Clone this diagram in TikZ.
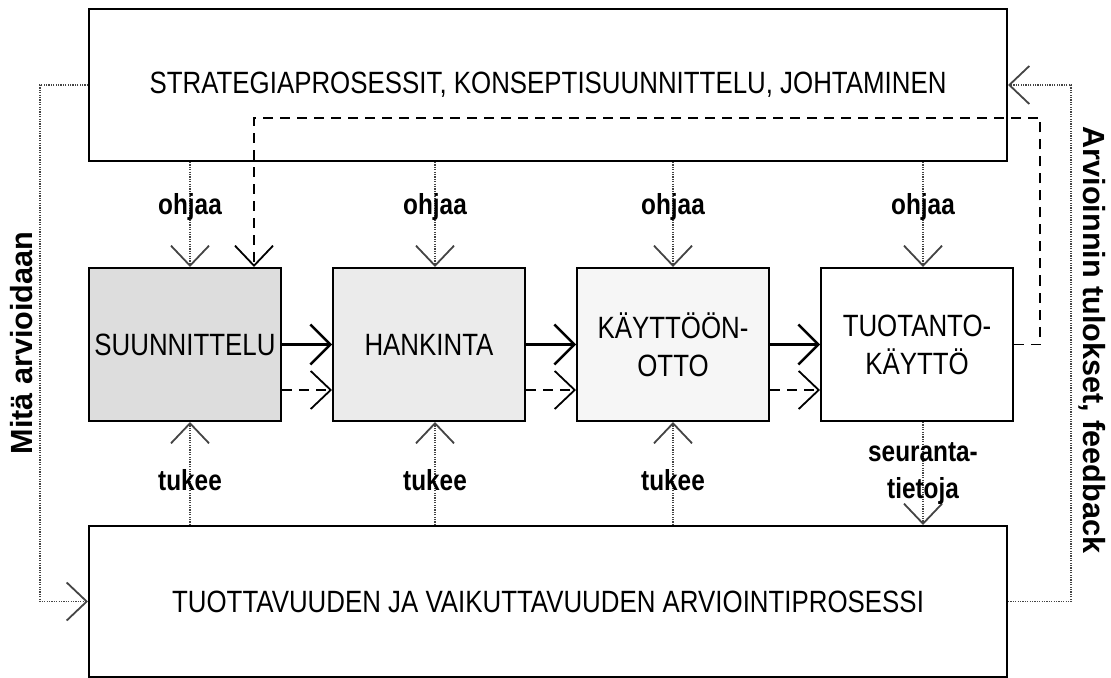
\documentclass[tikz,border=0pt]{standalone}
\usepackage{fontspec}
\setmainfont{Liberation Sans}[FakeStretch=0.84]
\newfontfamily\wideface{Liberation Sans}
\usepackage{tikz}
\usetikzlibrary{arrows.meta, positioning, calc}
\definecolor{phaseA}{HTML}{DDDDDD}
\definecolor{phaseB}{HTML}{EBEBEB}
\definecolor{phaseC}{HTML}{F6F6F6}
\definecolor{wire}{HTML}{444444}
\tikzset{
  bigbox/.style  = {rectangle, draw, line width=1pt, minimum width=459pt,
                    minimum height=76pt, inner sep=0pt,
                    font=\fontsize{15.4}{19}\selectfont},
  phase/.style   = {rectangle, draw, line width=1pt, minimum width=96pt,
                    minimum height=76.5pt, inner sep=0pt, align=center,
                    font=\fontsize{15.4}{19}\selectfont},
  vee/.style     = {-{Straight Barb[length=10pt, width=19pt, line width=0.9pt]}},
  flow/.style    = {-{Straight Barb[length=10pt, width=20pt, line width=1.2pt]},
                    line width=1.6pt},
  flowd/.style   = {vee, line width=0.9pt, dash pattern=on 5pt off 3.5pt},
  steer/.style   = {vee, draw=wire, line width=0.6pt, dash pattern=on 0.6pt off 0.6pt},
  loopd/.style   = {vee, line width=0.9pt, dash pattern=on 5pt off 3.5pt},
  lbl/.style     = {font=\fontsize{14.5}{18.5}\selectfont\bfseries, inner sep=0pt,
                    align=center},
  sidelbl/.style = {font=\wideface\fontsize{15.3}{17}\selectfont\bfseries, inner sep=0pt},
}

\begin{document}
\begin{tikzpicture}[x=0.5pt, y=-0.5pt]
  \useasboundingbox (0,0) rectangle (1111,678);

  % strategy on top, evaluation at the bottom
  \node[bigbox] (strat) at (548,85)
    {STRATEGIAPROSESSIT, KONSEPTISUUNNITTELU, JOHTAMINEN};
  \node[bigbox, minimum height=75.5pt] (eval) at (548,601.5)
    {TUOTTAVUUDEN JA VAIKUTTAVUUDEN ARVIOINTIPROSESSI};

  % the four phases, left to right
  \node[phase, fill=phaseA] (suun) at (185,344.5) {SUUNNITTELU};
  \node[phase, fill=phaseB, right=25pt of suun] (hank) {HANKINTA};
  \node[phase, fill=phaseC, right=25pt of hank] (kay) {KÄYTTÖÖN-\\OTTO};
  \node[phase, fill=white, right=25pt of kay] (tuot) {TUOTANTO-\\KÄYTTÖ};

  % phase to phase
  \draw[flow] (suun) -- (hank);
  \draw[flow] (hank) -- (kay);
  \draw[flow] (kay) -- (tuot);
  \draw[flowd] ([yshift=-22.75pt]suun.east) -- ([yshift=-22.75pt]hank.west);
  \draw[flowd] ([yshift=-22.75pt]hank.east) -- ([yshift=-22.75pt]kay.west);
  \draw[flowd] ([yshift=-22.75pt]kay.east) -- ([yshift=-22.75pt]tuot.west);

  % ohjaa / tukee
  \foreach \ph/\dx in {suun/2.5pt, hank/3pt, kay/0pt, tuot/3pt}
    \draw[steer] ([xshift=\dx]\ph.north |- strat.south) -- ([xshift=\dx]\ph.north)
      node[lbl, pos=0.43, text=black] {ohjaa};
  \foreach \ph/\dx in {suun/2.5pt, hank/3pt, kay/0pt}
    \draw[steer] ([xshift=\dx]\ph.south |- eval.north) -- ([xshift=\dx]\ph.south)
      node[lbl, pos=0.44, text=black] {tukee};
  \draw[steer] ([xshift=3pt]tuot.south) -- ([xshift=3pt]tuot.south |- eval.north)
    node[lbl, pos=0.5, text=black] {seuranta-\\tietoja};

  % feedback from production back to planning
  \coordinate (dk) at (1040,118);
  \draw[loopd] (tuot.east) -| (dk) -| ([xshift=34.5pt]suun.north);

  % outer loop
  \coordinate (ml) at (40,300);
  \coordinate (mr) at (1071,300);
  \draw[steer] (strat.west) -| (ml) |- (eval.west);
  \draw[steer] (eval.east) -| (mr) |- (strat.east);
  \node[sidelbl, rotate=90] (mita) at (22,343) {Mitä arvioidaan};
  \node[sidelbl, rotate=-90] (tulos) at (1092,340) {Arvioinnin tulokset, feedback};
\end{tikzpicture}
\end{document}
